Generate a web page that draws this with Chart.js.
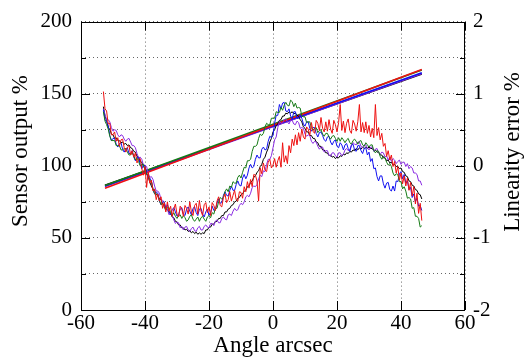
<!DOCTYPE html>
<html>
<head>
<meta charset="utf-8">
<script src="https://cdn.jsdelivr.net/npm/chart.js@4/dist/chart.umd.min.js"></script>
<style>
html,body{margin:0;padding:0;background:#fff;}
#wrap{width:525px;height:358px;}
</style>
</head>
<body>
<div id="wrap"><canvas id="c" width="525" height="358"></canvas></div>
<script>
// Angle positions (arcsec) of the linearity-error samples
const angles = [
 -53,-52.5,-52,-51.5,-51,-50.5,-50,-49.5,-49,-48.5,
 -48,-47.5,-47,-46.5,-46,-45.5,-45,-44.5,-44,-43.5,
 -43,-42.5,-42,-41.5,-41,-40.5,-40,-39.5,-39,-38.5,
 -38,-37.5,-37,-36.5,-36,-35.5,-35,-34.5,-34,-33.5,
 -33,-32.5,-32,-31.5,-31,-30.5,-30,-29.5,-29,-28.5,
 -28,-27.5,-27,-26.5,-26,-25.5,-25,-24.5,-24,-23.5,
 -23,-22.5,-22,-21.5,-21,-20.5,-20,-19.5,-19,-18.5,
 -18,-17.5,-17,-16.5,-16,-15.5,-15,-14.5,-14,-13.5,
 -13,-12.5,-12,-11.5,-11,-10.5,-10,-9.5,-9,-8.5,
 -8,-7.5,-7,-6.5,-6,-5.5,-5,-4.5,-4,-3.5,
 -3,-2.5,-2,-1.5,-1,-0.5,0,0.5,1,1.5,
 2,2.5,3,3.5,4,4.5,5,5.5,6,6.5,
 7,7.5,8,8.5,9,9.5,10,10.5,11,11.5,
 12,12.5,13,13.5,14,14.5,15,15.5,16,16.5,
 17,17.5,18,18.5,19,19.5,20,20.5,21,21.5,
 22,22.5,23,23.5,24,24.5,25,25.5,26,26.5,
 27,27.5,28,28.5,29,29.5,30,30.5,31,31.5,
 32,32.5,33,33.5,34,34.5,35,35.5,36,36.5,
 37,37.5,38,38.5,39,39.5,40,40.5,41,41.5,
 42,42.5,43,43.5,44,44.5,45,45.5,46,46.5];

// Linearity error % (right axis)
const errRed = [
 1.03,0.79,0.76,0.58,0.59,0.43,0.43,0.47,0.34,0.39,
 0.27,0.36,0.37,0.25,0.19,0.26,0.28,0.15,0.21,0.12,
 0.18,0.04,0.09,0.10,-0.04,-0.13,-0.01,-0.30,-0.09,-0.24,
 -0.20,-0.35,-0.32,-0.47,-0.39,-0.49,-0.43,-0.59,-0.51,-0.64,
 -0.50,-0.63,-0.56,-0.70,-0.60,-0.53,-0.67,-0.71,-0.56,-0.60,
 -0.70,-0.55,-0.59,-0.67,-0.50,-0.64,-0.69,-0.55,-0.52,-0.67,
 -0.48,-0.63,-0.69,-0.54,-0.51,-0.65,-0.57,-0.69,-0.51,-0.55,
 -0.62,-0.49,-0.43,-0.55,-0.57,-0.44,-0.39,-0.51,-0.47,-0.36,
 -0.49,-0.41,-0.34,-0.47,-0.49,-0.36,-0.37,-0.45,-0.29,-0.36,
 -0.22,-0.31,-0.19,-0.29,-0.12,-0.13,-0.21,-0.49,-0.03,-0.11,
 0.04,-0.06,-0.08,0.05,0.09,-0.03,0.01,0.10,-0.02,0.07,
 0.13,-0.02,0.32,0.05,0.14,0.03,0.28,0.18,0.37,0.28,
 0.43,0.29,0.46,0.34,0.51,0.40,0.37,0.54,0.51,0.42,
 0.60,0.48,0.45,0.63,0.59,0.49,0.67,0.52,0.47,0.61,
 0.48,0.64,0.51,0.45,0.63,0.57,0.47,0.60,0.85,0.49,
 0.62,0.46,0.59,0.65,0.49,0.45,0.63,0.58,0.48,0.61,
 0.85,0.47,0.60,0.46,0.61,0.45,0.56,0.40,0.52,0.39,
 0.85,0.42,0.53,0.36,0.45,0.27,0.31,0.13,0.21,0.08,
 0.15,-0.01,0.06,-0.10,-0.01,-0.20,-0.10,-0.25,-0.14,-0.28,
 -0.17,-0.34,-0.23,-0.42,-0.29,-0.53,-0.38,-0.66,-0.52,-0.76];
const errGreen = [
 0.75,0.62,0.57,0.51,0.41,0.35,0.35,0.35,0.28,0.28,
 0.28,0.22,0.22,0.24,0.24,0.19,0.15,0.15,0.18,0.14,
 0.08,0.11,0.06,0.00,0.02,0.02,-0.05,-0.12,-0.12,-0.20,
 -0.22,-0.32,-0.39,-0.39,-0.41,-0.48,-0.54,-0.52,-0.57,-0.62,
 -0.58,-0.58,-0.65,-0.69,-0.65,-0.70,-0.73,-0.69,-0.68,-0.73,
 -0.69,-0.72,-0.77,-0.75,-0.70,-0.68,-0.74,-0.77,-0.74,-0.71,
 -0.77,-0.72,-0.70,-0.74,-0.77,-0.71,-0.69,-0.72,-0.65,-0.67,
 -0.59,-0.59,-0.50,-0.44,-0.46,-0.44,-0.36,-0.32,-0.36,-0.28,
 -0.30,-0.22,-0.24,-0.24,-0.16,-0.13,-0.17,-0.09,-0.02,-0.03,
 0.07,0.07,0.09,0.20,0.27,0.27,0.29,0.38,0.44,0.42,
 0.45,0.54,0.59,0.57,0.57,0.66,0.66,0.66,0.75,0.74,
 0.74,0.81,0.77,0.84,0.88,0.84,0.83,0.91,0.89,0.82,
 0.87,0.80,0.81,0.80,0.69,0.68,0.68,0.60,0.61,0.61,
 0.53,0.49,0.52,0.53,0.46,0.49,0.50,0.44,0.41,0.45,
 0.45,0.40,0.37,0.41,0.42,0.38,0.34,0.39,0.34,0.39,
 0.36,0.32,0.36,0.38,0.32,0.30,0.35,0.37,0.34,0.30,
 0.34,0.35,0.29,0.27,0.32,0.29,0.26,0.29,0.29,0.21,
 0.18,0.21,0.20,0.13,0.09,0.13,0.11,0.05,0.01,0.03,
 -0.01,-0.10,-0.14,-0.11,-0.12,-0.22,-0.22,-0.32,-0.29,-0.35,
 -0.45,-0.44,-0.46,-0.59,-0.58,-0.70,-0.70,-0.73,-0.85,-0.83];
const errBlue = [
 0.78,0.64,0.61,0.56,0.42,0.35,0.38,0.38,0.30,0.26,
 0.31,0.32,0.23,0.19,0.23,0.25,0.17,0.17,0.21,0.12,
 0.07,0.12,0.11,0.02,-0.04,0.01,0.00,-0.10,-0.18,-0.17,
 -0.21,-0.33,-0.39,-0.37,-0.38,-0.49,-0.54,-0.50,-0.50,-0.60,
 -0.54,-0.62,-0.68,-0.61,-0.58,-0.64,-0.70,-0.68,-0.60,-0.58,
 -0.67,-0.69,-0.60,-0.57,-0.63,-0.68,-0.59,-0.57,-0.65,-0.69,
 -0.60,-0.59,-0.67,-0.71,-0.64,-0.60,-0.69,-0.65,-0.56,-0.62,
 -0.61,-0.52,-0.46,-0.52,-0.51,-0.41,-0.36,-0.41,-0.42,-0.34,
 -0.28,-0.34,-0.34,-0.26,-0.21,-0.27,-0.28,-0.17,-0.12,-0.18,
 -0.13,-0.03,0.02,-0.03,-0.01,0.09,0.15,0.11,0.11,0.23,
 0.26,0.22,0.23,0.34,0.41,0.39,0.42,0.59,0.70,0.70,
 0.85,0.79,0.87,0.88,0.76,0.75,0.79,0.69,0.65,0.75,
 0.75,0.66,0.66,0.71,0.66,0.58,0.55,0.61,0.61,0.52,
 0.48,0.53,0.53,0.45,0.40,0.46,0.47,0.42,0.36,0.34,
 0.40,0.41,0.33,0.29,0.34,0.36,0.27,0.25,0.32,0.29,
 0.22,0.29,0.31,0.24,0.20,0.28,0.30,0.22,0.20,0.28,
 0.28,0.21,0.17,0.24,0.25,0.15,0.19,0.06,0.10,-0.04,
 -0.03,-0.15,-0.21,-0.14,-0.14,-0.25,-0.31,-0.24,-0.23,-0.33,
 -0.35,-0.28,-0.35,-0.21,-0.22,-0.11,-0.08,-0.18,-0.12,-0.24,
 -0.21,-0.33,-0.30,-0.44,-0.39,-0.50,-0.45,-0.56,-0.55,-0.62];
const errPurple = [
 0.79,0.71,0.64,0.64,0.61,0.53,0.48,0.50,0.49,0.43,
 0.40,0.43,0.42,0.37,0.34,0.37,0.38,0.33,0.28,0.28,
 0.25,0.17,0.11,0.12,0.09,0.01,0.01,-0.01,-0.10,-0.16,
 -0.15,-0.19,-0.28,-0.35,-0.35,-0.38,-0.47,-0.48,-0.50,-0.59,
 -0.60,-0.68,-0.66,-0.68,-0.75,-0.80,-0.78,-0.79,-0.86,-0.84,
 -0.89,-0.85,-0.84,-0.89,-0.91,-0.87,-0.85,-0.90,-0.91,-0.86,
 -0.84,-0.89,-0.89,-0.84,-0.82,-0.85,-0.86,-0.80,-0.80,-0.83,
 -0.77,-0.75,-0.79,-0.79,-0.73,-0.71,-0.74,-0.75,-0.68,-0.67,
 -0.69,-0.63,-0.59,-0.62,-0.61,-0.55,-0.52,-0.54,-0.50,-0.43,
 -0.41,-0.43,-0.38,-0.30,-0.28,-0.29,-0.26,-0.18,-0.13,-0.15,
 -0.07,-0.08,0.02,0.09,0.09,0.14,0.25,0.36,0.40,0.53,
 0.62,0.59,0.59,0.64,0.65,0.61,0.58,0.63,0.63,0.58,
 0.57,0.62,0.60,0.52,0.53,0.52,0.44,0.41,0.43,0.42,
 0.34,0.31,0.34,0.33,0.27,0.23,0.26,0.26,0.19,0.21,
 0.21,0.15,0.13,0.18,0.18,0.14,0.12,0.18,0.18,0.14,
 0.16,0.22,0.24,0.21,0.22,0.29,0.32,0.30,0.29,0.33,
 0.33,0.27,0.25,0.29,0.29,0.25,0.22,0.26,0.26,0.20,
 0.23,0.24,0.18,0.16,0.19,0.18,0.12,0.14,0.08,0.12,
 0.06,0.10,0.08,0.03,0.06,0.08,0.02,0.05,0.05,-0.01,
 0.03,-0.04,-0.01,-0.03,-0.10,-0.10,-0.12,-0.21,-0.21,-0.27];
const errBlack = [
 0.82,0.69,0.63,0.53,0.51,0.44,0.43,0.38,0.39,0.35,
 0.35,0.32,0.33,0.30,0.31,0.28,0.29,0.25,0.24,0.20,
 0.19,0.13,0.12,0.06,0.05,-0.01,-0.04,-0.11,-0.15,-0.23,
 -0.28,-0.33,-0.34,-0.40,-0.41,-0.46,-0.47,-0.53,-0.54,-0.59,
 -0.60,-0.65,-0.66,-0.71,-0.72,-0.77,-0.78,-0.82,-0.82,-0.86,
 -0.86,-0.89,-0.88,-0.91,-0.90,-0.93,-0.91,-0.94,-0.92,-0.95,
 -0.93,-0.95,-0.93,-0.94,-0.89,-0.89,-0.85,-0.85,-0.81,-0.81,
 -0.77,-0.77,-0.73,-0.73,-0.69,-0.69,-0.64,-0.64,-0.60,-0.59,
 -0.55,-0.54,-0.50,-0.49,-0.45,-0.44,-0.40,-0.39,-0.35,-0.34,
 -0.29,-0.28,-0.23,-0.21,-0.16,-0.14,-0.09,-0.07,-0.01,0.02,
 0.09,0.12,0.19,0.24,0.33,0.38,0.47,0.50,0.56,0.58,
 0.63,0.64,0.69,0.69,0.73,0.72,0.75,0.73,0.75,0.72,
 0.73,0.70,0.69,0.64,0.61,0.54,0.52,0.47,0.47,0.42,
 0.42,0.38,0.38,0.33,0.32,0.27,0.27,0.22,0.22,0.18,
 0.18,0.14,0.15,0.12,0.13,0.10,0.12,0.11,0.14,0.13,
 0.16,0.15,0.18,0.17,0.20,0.19,0.22,0.21,0.24,0.22,
 0.25,0.23,0.26,0.24,0.26,0.24,0.26,0.24,0.24,0.21,
 0.22,0.19,0.19,0.15,0.15,0.11,0.11,0.07,0.08,0.04,
 0.05,0.01,0.02,-0.01,-0.01,-0.04,-0.03,-0.08,-0.09,-0.14,
 -0.15,-0.21,-0.22,-0.27,-0.28,-0.33,-0.34,-0.39,-0.40,-0.46];

// Sensor output % (left axis): straight fits, endpoints
const fitAngles = [-52.5, 46.5];
const outRed = [84.5, 166.8];
const outGreen = [86.3, 166.4];
const outBlue = [86.0, 164.6];
const outPurple = [85.6, 164.0];
const outBlack = [86.5, 163.6];

const xTicks = [-60,-40,-20,0,20,40,60];
const leftTicks = [0,50,100,150,200];
const rightTicks = [-2,-1,0,1,2];

const colors = {red:'#ee1111', green:'#157a15', blue:'#1010f0', purple:'#8a2be2', black:'#000000'};
const FONT = '"Liberation Serif", "Times New Roman", serif';

function pts(xs, ys){ return xs.map((x,i)=>({x:x, y:ys[i]})); }

const errSets = [['red',errRed],['green',errGreen],['blue',errBlue],['purple',errPurple],['black',errBlack]];
const outSets = [['red',outRed],['green',outGreen],['blue',outBlue],['purple',outPurple],['black',outBlack]];

const datasets = [];
errSets.forEach(([c,arr])=>datasets.push({data:pts(angles,arr), yAxisID:'y2', borderColor:colors[c], borderWidth:1, showLine:true, pointRadius:0, tension:0, fill:false}));
outSets.forEach(([c,arr])=>datasets.push({data:pts(fitAngles,arr), yAxisID:'y', borderColor:colors[c], borderWidth:1.6, showLine:true, pointRadius:0, tension:0, fill:false}));

const framePlugin = {
  id:'frame',
  afterDraw(chart){
    const ctx = chart.ctx, a = chart.chartArea;
    const sx = chart.scales.x, sy = chart.scales.y, sy2 = chart.scales.y2;
    ctx.save();
    ctx.strokeStyle = '#000'; ctx.lineWidth = 1;
    ctx.strokeRect(Math.round(a.left)+0.5, Math.round(a.top)+0.5, Math.round(a.right-a.left)-1, Math.round(a.bottom-a.top));
    ctx.beginPath();
    for (let v=0; v<=200; v+=25){
      const p = Math.round(sy.getPixelForValue(v))+0.5, L = (v%50===0)?9:5;
      ctx.moveTo(a.left, p); ctx.lineTo(a.left+L, p);
    }
    for (let v=-2; v<=2.001; v+=0.5){
      const p = Math.round(sy2.getPixelForValue(v))+0.5, L = (Math.abs(v%1)<1e-6)?9:5;
      ctx.moveTo(a.right, p); ctx.lineTo(a.right-L, p);
    }
    xTicks.forEach(v=>{
      const p = Math.round(sx.getPixelForValue(v))+0.5;
      ctx.moveTo(p, a.bottom); ctx.lineTo(p, a.bottom-9);
      ctx.moveTo(p, a.top); ctx.lineTo(p, a.top+9);
    });
    ctx.stroke();
    ctx.fillStyle = '#000';
    ctx.font = '23px ' + FONT;
    ctx.textAlign = 'center'; ctx.textBaseline = 'middle';
    ctx.fillText('Angle arcsec', (a.left+a.right)/2, 346);
    ctx.save(); ctx.translate(21, 151); ctx.rotate(-Math.PI/2); ctx.fillText('Sensor output %', 0, 0); ctx.restore();
    ctx.save(); ctx.translate(513, 152); ctx.rotate(-Math.PI/2); ctx.fillText('Linearity error %', 0, 0); ctx.restore();
    ctx.restore();
  }
};

new Chart(document.getElementById('c'), {
  type:'scatter',
  data:{datasets},
  options:{
    responsive:false, animation:false, devicePixelRatio:1,
    layout:{padding:{top:20, left:0, right:0, bottom:0}},
    plugins:{legend:{display:false}, tooltip:{enabled:false}},
    scales:{
      x:{type:'linear', min:-60, max:60,
         afterBuildTicks(s){ s.ticks = xTicks.map(v=>({value:v})); },
         afterFit(s){ s.height = 48; },
         ticks:{color:'#000', font:{family:FONT, size:21}, padding:1, maxRotation:0, autoSkip:false},
         grid:{color:'rgba(0,0,0,0.6)', lineWidth:1, drawTicks:false, tickLength:0},
         border:{display:false, dash:[1,3]}},
      y:{type:'linear', position:'left', min:0, max:200,
         ticks:{stepSize:25, color:'#000', font:{family:FONT, size:21}, padding:9,
                callback:(v)=> leftTicks.includes(v) ? String(v) : ''},
         afterFit(s){ s.width = 81; },
         grid:{color:'rgba(0,0,0,0.6)', lineWidth:1, drawTicks:false, tickLength:0},
         border:{display:false, dash:[1,3]}},
      y2:{type:'linear', position:'right', min:-2, max:2,
         ticks:{stepSize:0.5, color:'#000', font:{family:FONT, size:21}, padding:8,
                callback:(v)=> rightTicks.includes(v) ? String(v) : ''},
         afterFit(s){ s.width = 60; },
         grid:{display:false, drawTicks:false},
         border:{display:false}}
    }
  },
  plugins:[framePlugin]
});
</script>
</body>
</html>
